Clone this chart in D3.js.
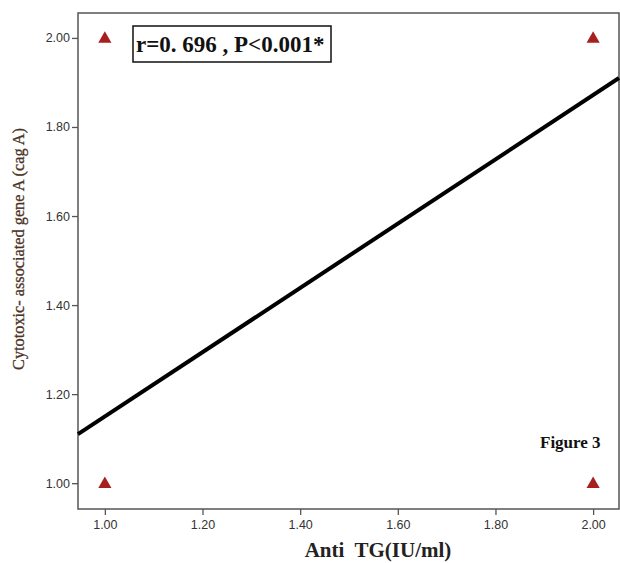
<!DOCTYPE html>
<html>
<head>
<meta charset="utf-8">
<script src="https://cdn.jsdelivr.net/npm/d3@7"></script>
<style>
  body { margin: 0; background: #fff; }
  svg { display: block; }
</style>
</head>
<body>
<svg id="chart" width="620" height="563"></svg>
<script>
// data
const pointsX = [1.00, 2.00, 1.00, 2.00]
const pointsY = [2.00, 2.00, 1.00, 1.00]
const fitX = [0.945, 2.053]
const fitY = [1.11, 1.91]
const tickValues = [1.00, 1.20, 1.40, 1.60, 1.80, 2.00]
const statText = "r=0. 696 , P<0.001*"
const xTitle = "Anti  TG(IU/ml)"
const yTitle = "Cytotoxic- associated gene A (cag A)"

const svg = d3.select("#chart")

const plotLeft = 78, plotRight = 619, plotTop = 13, plotBottom = 509

const x = d3.scaleLinear().domain([0.945, 2.053]).range([plotLeft, plotRight])
const y = d3.scaleLinear().domain([0.942, 2.056]).range([plotBottom, plotTop])

// frame
svg.append("rect")
  .attr("x", plotLeft).attr("y", plotTop)
  .attr("width", plotRight - plotLeft).attr("height", plotBottom - plotTop)
  .attr("fill", "none").attr("stroke", "#555").attr("stroke-width", 1.5)

// axes
const xAxis = svg.append("g")
  .attr("transform", `translate(0,${plotBottom})`)
  .call(d3.axisBottom(x).tickValues(tickValues).tickFormat(d3.format(".2f")).tickSize(6).tickPadding(5))
const yAxis = svg.append("g")
  .attr("transform", `translate(${plotLeft},0)`)
  .call(d3.axisLeft(y).tickValues(tickValues).tickFormat(d3.format(".2f")).tickSize(6).tickPadding(2))

;[xAxis, yAxis].forEach(g => {
  g.select(".domain").remove()
  g.selectAll("line").attr("stroke", "#555").attr("stroke-width", 1.3)
  g.selectAll("text")
    .attr("fill", "#333")
    .attr("font-family", "Liberation Sans, Arial, sans-serif")
    .attr("font-size", "12.5px")
})

// regression line
svg.append("line")
  .attr("x1", x(fitX[0])).attr("y1", y(fitY[0]))
  .attr("x2", x(fitX[1])).attr("y2", y(fitY[1]))
  .attr("stroke", "#000").attr("stroke-width", 4)

// points
svg.append("g")
  .selectAll("path")
  .data(pointsX.map((d, i) => [d, pointsY[i]]))
  .join("path")
  .attr("d", d3.symbol().type(d3.symbolTriangle).size(75))
  .attr("transform", d => `translate(${x(d[0])},${y(d[1]) + 1})`)
  .attr("fill", "#a8201e")

// stat box
svg.append("rect")
  .attr("x", 133).attr("y", 26).attr("width", 198).attr("height", 36)
  .attr("fill", "#fff").attr("stroke", "#111").attr("stroke-width", 1.5)
svg.append("text")
  .attr("x", 136).attr("y", 52)
  .attr("font-family", "Liberation Serif, Times New Roman, serif")
  .attr("font-weight", "bold").attr("font-size", "23px")
  .attr("fill", "#111")
  .attr("xml:space", "preserve")
  .text(statText)

// figure label
svg.append("text")
  .attr("x", 540).attr("y", 448)
  .attr("font-family", "Liberation Serif, Times New Roman, serif")
  .attr("font-weight", "bold").attr("font-size", "17px")
  .attr("fill", "#111")
  .text("Figure 3")

// axis titles
svg.append("text")
  .attr("x", 378).attr("y", 557)
  .attr("text-anchor", "middle")
  .attr("font-family", "Liberation Serif, Times New Roman, serif")
  .attr("font-weight", "bold").attr("font-size", "21px")
  .attr("fill", "#222")
  .attr("xml:space", "preserve")
  .text(xTitle)

svg.append("text")
  .attr("transform", "translate(24,249) rotate(-90)")
  .attr("text-anchor", "middle")
  .attr("font-family", "Liberation Serif, Times New Roman, serif")
  .attr("font-size", "16.3px")
  .attr("fill", "#4a3325")
  .attr("stroke", "#4a3325").attr("stroke-width", 0.3)
  .text(yTitle)
</script>
</body>
</html>
